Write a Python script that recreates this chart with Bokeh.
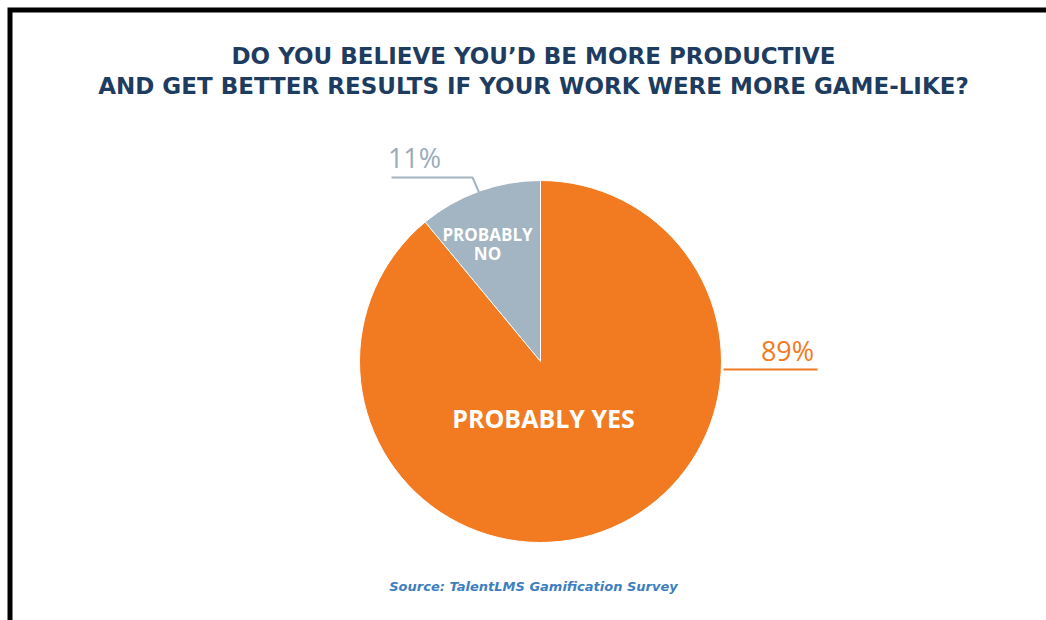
import math
from bokeh.plotting import figure
from bokeh.models import Range1d, ColumnDataSource
from bokeh.core.properties import value
from bokeh.embed import file_html
from bokeh.resources import INLINE

# ---- data ----
categories = ["PROBABLY NO", "PROBABLY YES"]
values = [11, 89]
colors = ["#A3B4C2", "#F27B22"]
pct_labels = ["11%", "89%"]
title_lines = ["DO YOU BELIEVE YOU\u2019D BE MORE PRODUCTIVE",
               "AND GET BETTER RESULTS IF YOUR WORK WERE MORE GAME-LIKE?"]
source_text = "Source: TalentLMS Gamification Survey"

W, H = 1046, 620
def Y(s, size=0):
    # screen y of the baseline -> data y (with empirical baseline correction)
    return H - s + 0.38 * size

# cumulative angles, starting at 12 o'clock, counterclockwise
total = sum(values)
starts, ends = [], []
acc = math.pi / 2
for v in values:
    starts.append(acc)
    acc += 2 * math.pi * v / total
    ends.append(acc)

src = ColumnDataSource(dict(cat=categories, val=values, color=colors,
                            start=starts, end=ends))

p = figure(width=W, height=H, output_backend="svg", toolbar_location=None,
           x_range=Range1d(0, W), y_range=Range1d(0, H),
           min_border=0, min_border_left=0, min_border_right=0,
           min_border_top=0, min_border_bottom=0)
p.axis.visible = False
p.grid.visible = False
p.outline_line_color = None
p.background_fill_color = "white"
p.border_fill_color = "white"

cx, cy, r = 540, Y(361), 181
p.wedge(x=cx, y=cy, radius=r, start_angle="start", end_angle="end",
        fill_color="color", line_color="white", line_width=1, source=src)

# frame lines (left and top)
p.line(x=[9.5, 9.5, W + 5], y=[-5, Y(9.5), Y(9.5)], line_color="black",
       line_width=5, line_join="miter")

# title
TF = value("Open Sans")
DF = value("DejaVu Sans")
p.text(x=[533, 533], y=[Y(64, 23), Y(94, 23)], text=title_lines, text_font=DF,
       text_font_style="bold", text_font_size="23px", text_color="#1E3C5F",
       text_align="center", text_baseline="alphabetic")

# leader lines
p.line(x=[391, 472, 479], y=[Y(177), Y(177), Y(193)], line_color=colors[0],
       line_width=2)
p.line(x=[723, 817], y=[Y(369), Y(369)], line_color=colors[1], line_width=2)

# percentage labels
p.text(x=[414], y=[Y(167, 27)], text=[pct_labels[0]], text_font=TF,
       text_font_size="27px", text_color="#9AACBB",
       text_align="center", text_baseline="alphabetic")
p.text(x=[787], y=[Y(360, 27)], text=[pct_labels[1]], text_font=TF,
       text_font_size="27px", text_color=colors[1],
       text_align="center", text_baseline="alphabetic")

# in-slice labels
p.text(x=[487, 487], y=[Y(240, 17), Y(259, 17)], text=["PROBABLY", "NO"], text_font=TF,
       text_font_style="bold", text_font_size="17px", text_color="white",
       text_align="center", text_baseline="alphabetic")
p.text(x=[543], y=[Y(427, 25)], text=[categories[1]], text_font=TF,
       text_font_style="bold", text_font_size="25px", text_color="white",
       text_align="center", text_baseline="alphabetic")

# source
p.text(x=[533], y=[Y(591, 13)], text=[source_text], text_font=DF,
       text_font_style="bold italic", text_font_size="13px", text_color="#3D7EC0",
       text_align="center", text_baseline="alphabetic")

open("out.html", "w").write(file_html(p, INLINE))
